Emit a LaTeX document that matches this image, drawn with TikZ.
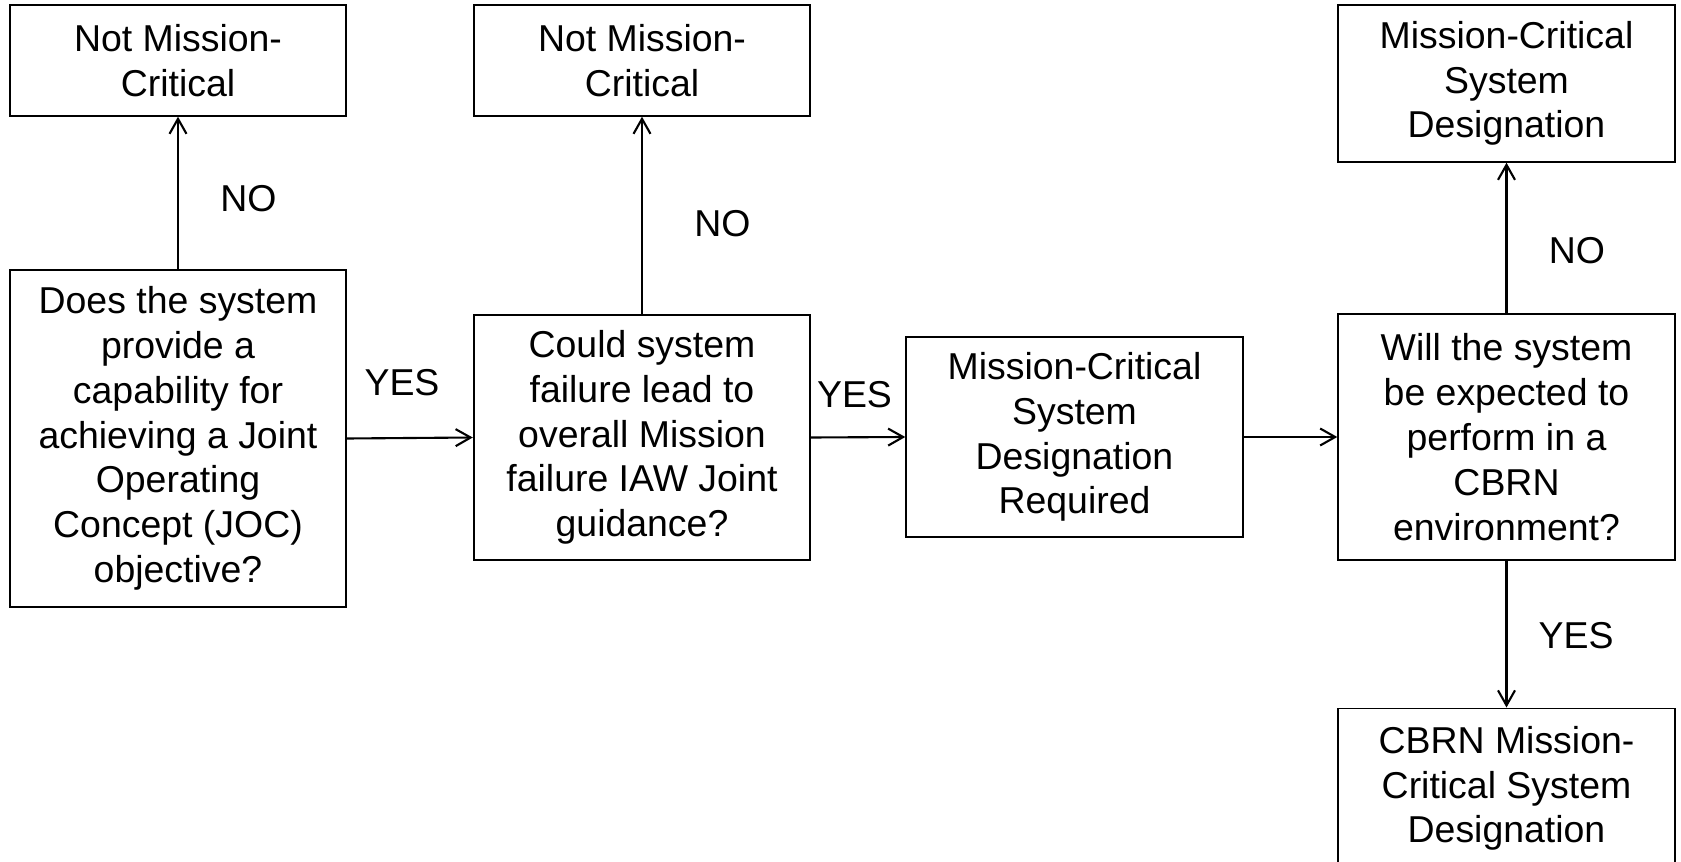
\documentclass[tikz,border=0pt]{standalone}
\usepackage{fontspec}
\setmainfont{Liberation Sans}
\usetikzlibrary{arrows.meta}
\tikzset{
  flowbox/.style = {draw=black, line width=1.1pt, rectangle, align=center,
    minimum width=6.73cm, inner sep=2pt, font=\fontsize{21.3}{25.5}\selectfont},
  answer/.style = {font=\fontsize{21.3}{25.5}\selectfont, inner sep=0pt},
  flowarrow/.style = {line width=1.2pt, -{Straight Barb[length=3mm,width=3.4mm]}}
}

\begin{document}
\begin{tikzpicture}
        \useasboundingbox (0,0) rectangle (33.62,-17.24);
        % top row
        \node [flowbox, minimum height=2.21cm] (nmcA) at (3.56,-1.21)
            {Not Mission-\\Critical};
        \node [flowbox, minimum height=2.21cm] (nmcB) at (12.84,-1.21)
            {Not Mission-\\Critical};
        \node [flowbox, minimum height=3.13cm] (mcd) at (30.13,-1.67)
            {Mission-Critical\\System\\Designation};
        % middle row
        \node [flowbox, minimum height=6.74cm] (qJoc) at (3.56,-8.77)
            {Does the system\\provide a\\capability for\\achieving a Joint\\Operating\\Concept (JOC)\\objective?};
        \node [flowbox, minimum height=4.89cm] (qFail) at (12.84,-8.75)
            {Could system\\failure lead to\\overall Mission\\failure IAW Joint\\guidance?};
        \node [flowbox, minimum height=4.01cm] (req) at (21.49,-8.74)
            {Mission-Critical\\System\\Designation\\Required};
        \node [flowbox, minimum height=4.91cm] (qCbrn) at (30.13,-8.74)
            {Will the system\\be expected to\\perform in a\\CBRN\\environment?};
        % bottom
        \node [flowbox, minimum height=3.2cm, anchor=north] (cbrnMcd) at (30.13,-14.15)
            {CBRN Mission-\\Critical System\\Designation};

        \draw [flowarrow] (qJoc.north) -- (nmcA.south);
        \draw [flowarrow] (qFail.north) -- (nmcB.south);
        \draw [flowarrow] (qCbrn.north) -- (mcd.south);
        \draw [flowarrow] (qJoc.east) -- (qFail.west);
        \draw [flowarrow] (qFail.east) -- (req.west);
        \draw [flowarrow] (req.east) -- (qCbrn.west);
        \draw [flowarrow] (qCbrn.south) -- (cbrnMcd.north);

        \node [answer] (noA) at (4.97,-3.97) {NO};
        \node [answer] (noB) at (14.45,-4.48) {NO};
        \node [answer] (noC) at (31.54,-5.02) {NO};
        \node [answer] (yesA) at (8.04,-7.65) {YES};
        \node [answer] (yesB) at (17.09,-7.89) {YES};
        \node [answer] (yesC) at (31.52,-12.71) {YES};
\end{tikzpicture}
\end{document}
